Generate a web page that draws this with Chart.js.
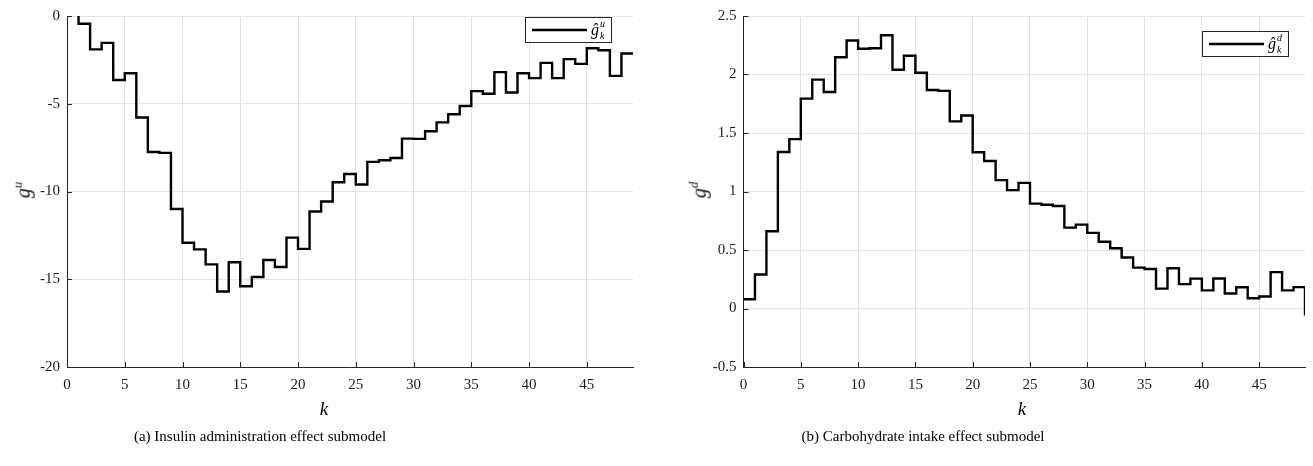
<!DOCTYPE html>
<html>
<head>
<meta charset="utf-8">
<script src="https://cdn.jsdelivr.net/npm/chart.js@4/dist/chart.umd.min.js"></script>
<style>
  body { margin: 0; width: 1313px; height: 466px; background: #fff; position: relative; overflow: hidden;
         font-family: 'Liberation Serif', 'DejaVu Serif', serif; color: #000; }
  canvas { position: absolute; top: 0; }
  .cap { position: absolute; top: 428px; font-size: 15px; white-space: nowrap; transform: translateX(-50%); }
  .xl { position: absolute; font-style: italic; font-size: 19px; transform: translate(-50%, -50%); }
  .yl { position: absolute; font-style: italic; font-size: 20px; color: #111; white-space: nowrap; transform: translate(-50%, -50%) rotate(-90deg); }
  .yl sup { font-size: 13px; }
</style>
</head>
<body>
<canvas id="chartU" width="650" height="400" style="left:0px"></canvas>
<canvas id="chartD" width="637" height="400" style="left:676px"></canvas>

<div class="yl" style="left:22px; top:190px">g<sup>u</sup></div>
<div class="yl" style="left:698px; top:190px">g<sup>d</sup></div>
<div class="xl" style="left:324px; top:409px">k</div>
<div class="xl" style="left:1022px; top:409px">k</div>
<div class="cap" style="left:260px">(a) Insulin administration effect submodel</div>
<div class="cap" style="left:923px">(b) Carbohydrate intake effect submodel</div>

<script>
/////////////////////////////
// Data
/////////////////////////////

// step index
const kSteps = [0, 1, 2, 3, 4, 5, 6, 7, 8, 9, 10, 11, 12, 13, 14, 15, 16, 17, 18, 19,
  20, 21, 22, 23, 24, 25, 26, 27, 28, 29, 30, 31, 32, 33, 34, 35, 36, 37, 38, 39,
  40, 41, 42, 43, 44, 45, 46, 47, 48, 49];

// (a) insulin administration effect
const gInsulin = [0.1, -0.44, -1.9, -1.53, -3.65, -3.26, -5.78, -7.75, -7.8, -11.0,
  -12.92, -13.3, -14.15, -15.7, -14.03, -15.4, -14.87, -13.9, -14.3, -12.63,
  -13.27, -11.14, -10.57, -9.47, -9.0, -9.6, -8.31, -8.22, -8.09, -6.99,
  -7.0, -6.57, -6.06, -5.6, -5.13, -4.28, -4.43, -3.2, -4.36, -3.26,
  -3.54, -2.67, -3.54, -2.46, -2.73, -1.84, -1.95, -3.41, -2.14, -2.14];

// (b) carbohydrate intake effect
const gCarbs = [0.079, 0.29, 0.66, 1.337, 1.448, 1.794, 1.956, 1.85, 2.148, 2.29,
  2.22, 2.225, 2.335, 2.04, 2.16, 2.015, 1.867, 1.86, 1.599, 1.65,
  1.335, 1.261, 1.097, 1.012, 1.074, 0.896, 0.887, 0.876, 0.691, 0.717,
  0.646, 0.570, 0.515, 0.436, 0.349, 0.337, 0.170, 0.344, 0.208, 0.255,
  0.155, 0.257, 0.128, 0.181, 0.087, 0.102, 0.311, 0.155, 0.183, -0.06];

// axis ranges
const xRange = [0, 49];
const yRangeU = [-20, 0];
const yRangeD = [-0.5, 2.5];

/////////////////////////////
// Plugins
/////////////////////////////

const axisColor = '#262626';
const gridColor = '#e3e3e3';
const tickFont = { family: "'Liberation Serif', serif", size: 15 };

// MATLAB style ticks pointing into the axes
const inTicks = {
  id: 'inTicks',
  afterDatasetsDraw(chart) {
    const { ctx, chartArea: a, scales: { x, y } } = chart;
    ctx.save();
    ctx.strokeStyle = axisColor;
    ctx.lineWidth = 1;
    ctx.beginPath();
    x.ticks.forEach(t => {
      const px = Math.round(x.getPixelForValue(t.value)) + 0.5;
      ctx.moveTo(px, a.bottom);
      ctx.lineTo(px, a.bottom - 5);
    });
    y.ticks.forEach(t => {
      const py = Math.round(y.getPixelForValue(t.value)) + 0.5;
      ctx.moveTo(a.left, py);
      ctx.lineTo(a.left + 5, py);
    });
    ctx.stroke();
    ctx.restore();
  }
};

// boxed legend with a hat-g symbol
const mathLegend = {
  id: 'mathLegend',
  afterDraw(chart, args, opts) {
    const { ctx, chartArea: a } = chart;
    const w = 87, h = 26;
    const bx = a.right - opts.right - w, by = a.top + opts.top;
    ctx.save();
    ctx.fillStyle = '#fff';
    ctx.fillRect(bx, by, w, h);
    ctx.strokeStyle = axisColor;
    ctx.lineWidth = 1;
    ctx.strokeRect(bx + 0.5, by + 0.5, w - 1, h - 1);
    ctx.strokeStyle = '#000';
    ctx.lineWidth = 2.4;
    ctx.beginPath();
    ctx.moveTo(bx + 7, by + h / 2);
    ctx.lineTo(bx + 62, by + h / 2);
    ctx.stroke();
    ctx.fillStyle = '#000';
    ctx.textBaseline = 'alphabetic';
    ctx.font = "italic 16px 'Liberation Serif', serif";
    ctx.fillText('\u011d', bx + 66, by + 18);
    ctx.font = "italic 10px 'Liberation Serif', serif";
    ctx.fillText(opts.sup, bx + 75, by + 10);
    ctx.fillText('k', bx + 75, by + 22);
    ctx.restore();
  }
};

/////////////////////////////
// Charts
/////////////////////////////

function stairsChart(id, values, yRange, yStep, yWidth, padRight, legendPos) {
  return new Chart(document.getElementById(id), {
    type: 'line',
    data: {
      datasets: [{
        data: kSteps.map((k, i) => ({ x: k, y: values[i] })),
        borderColor: '#000',
        borderWidth: 2.4,
        stepped: true,
        fill: false,
        pointRadius: 0,
        clip: 0
      }]
    },
    options: {
      responsive: false,
      animation: false,
      layout: { padding: { top: 14, right: padRight, bottom: 0, left: 0 } },
      plugins: {
        legend: { display: false },
        tooltip: { enabled: false },
        mathLegend: legendPos
      },
      scales: {
        x: {
          type: 'linear',
          min: xRange[0], max: xRange[1],
          ticks: { stepSize: 5, includeBounds: false, autoSkip: false, maxRotation: 0,
                   padding: 9, font: tickFont, color: '#1a1a1a' },
          grid: { color: gridColor, drawTicks: false },
          border: { display: true, color: axisColor, width: 1 },
          afterFit(s) { s.height = 33; }
        },
        y: {
          min: yRange[0], max: yRange[1],
          ticks: { stepSize: yStep, padding: 7, font: tickFont, color: '#1a1a1a',
                   callback: v => String(v) },
          grid: { color: gridColor, drawTicks: false },
          border: { display: true, color: axisColor, width: 1 },
          afterFit(s) { s.width = yWidth; }
        }
      }
    },
    plugins: [inTicks, mathLegend]
  });
}

stairsChart('chartU', gInsulin, yRangeU, 5, 67, 17, { right: 21, top: 1, sup: 'u' });
stairsChart('chartD', gCarbs, yRangeD, 0.5, 67.5, 8, { right: 16, top: 15, sup: 'd' });
</script>
</body>
</html>
